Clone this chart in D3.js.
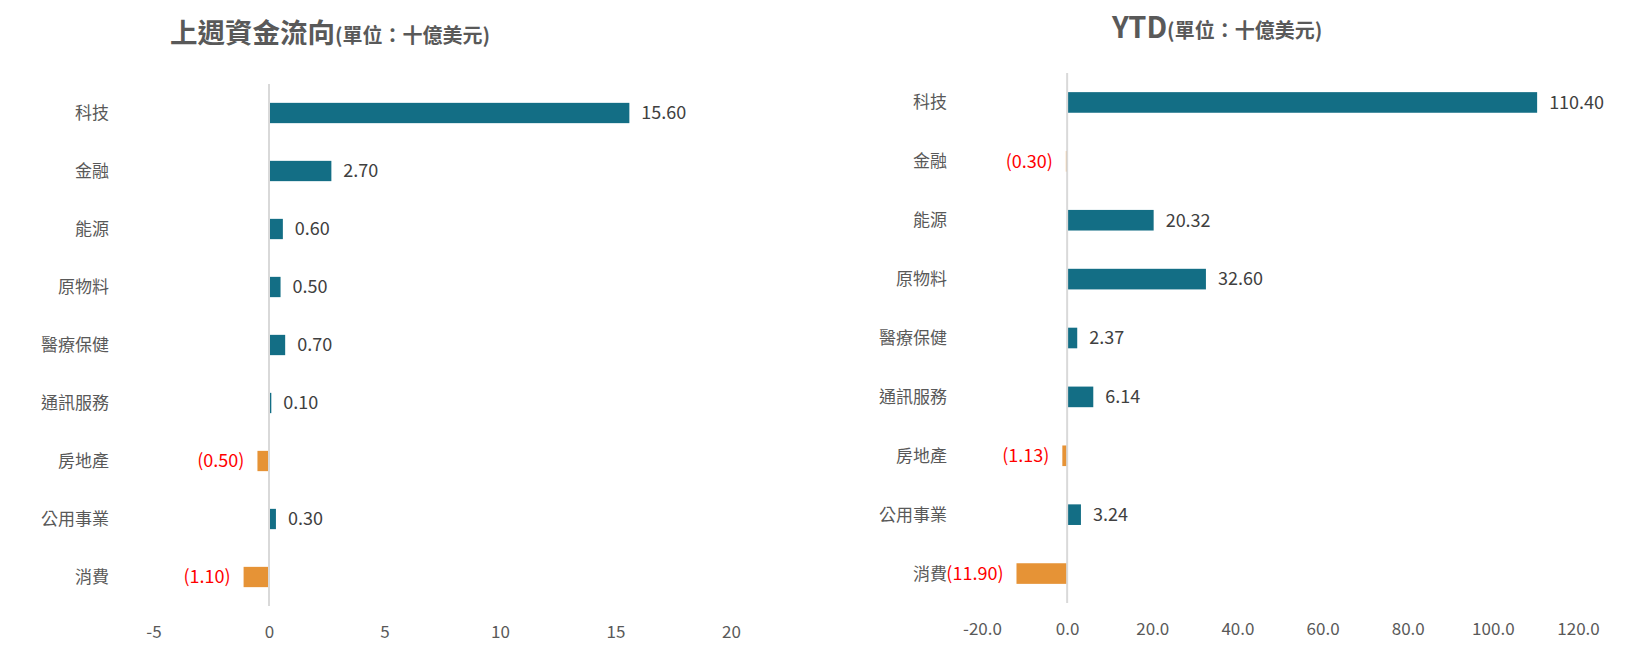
<!DOCTYPE html>
<html>
<head>
<meta charset="utf-8">
<script src="https://cdn.jsdelivr.net/npm/d3@7"></script>
<style>
  html, body { margin: 0; padding: 0; background: #ffffff; }
  svg { display: block; }
  text { font-family: "Noto Sans CJK TC", "Noto Sans", sans-serif; }
</style>
</head>
<body>
<svg id="chart" width="1629" height="648"></svg>
<script>
// ---- data ----
const categories = ["科技", "金融", "能源", "原物料", "醫療保健", "通訊服務", "房地產", "公用事業", "消費"];
const weeklyValues = [15.60, 2.70, 0.60, 0.50, 0.70, 0.10, -0.50, 0.30, -1.10];
const ytdValues = [110.40, -0.30, 20.32, 32.60, 2.37, 6.14, -1.13, 3.24, -11.90];
const weeklyTicks = [-5, 0, 5, 10, 15, 20];
const ytdTicks = [-20, 0, 20, 40, 60, 80, 100, 120];
const weeklyTitle = "上週資金流向";
const ytdTitle = "YTD";
const unitText = "(單位：十億美元)";

// ---- styles ----
const POS = "#136E85";
const NEG = "#E69336";
const GREY = "#595959";
const AXIS = "#D9D9D9";

const svg = d3.select("#chart");

function fmtValue(v) {
  return v < 0 ? "(" + Math.abs(v).toFixed(2) + ")" : v.toFixed(2);
}

function drawPanel(cfg) {
  const g = svg.append("g");
  const x = d3.scaleLinear().domain(cfg.domain).range(cfg.xRange);
  const y = d3.scaleBand().domain(categories).range(cfg.yRange)
    .paddingInner(0.65).paddingOuter(0.325);
  const rows = categories.map((c, i) => ({ cat: c, v: cfg.values[i] }));

  // title
  const t = g.append("text")
    .attr("x", cfg.titleX).attr("y", cfg.titleY)
    .attr("fill", GREY).attr("font-weight", "bold");
  t.append("tspan").attr("font-size", cfg.titleSize).text(cfg.title);
  t.append("tspan").attr("font-size", 20).text(unitText);

  // bars
  g.selectAll("rect.bar").data(rows).join("rect")
    .attr("class", "bar")
    .attr("x", d => x(Math.min(0, d.v)))
    .attr("width", d => Math.abs(x(d.v) - x(0)))
    .attr("y", d => y(d.cat))
    .attr("height", y.bandwidth())
    .attr("fill", d => d.v < 0 ? NEG : POS);

  // zero line
  g.append("line")
    .attr("x1", x(0)).attr("x2", x(0))
    .attr("y1", cfg.yRange[0]).attr("y2", cfg.yRange[1])
    .attr("stroke", AXIS).attr("stroke-width", 2);

  // category labels
  g.selectAll("text.cat").data(rows).join("text")
    .attr("class", "cat")
    .attr("x", cfg.catX)
    .attr("y", d => y(d.cat) + y.bandwidth() / 2)
    .attr("dy", "0.35em")
    .attr("text-anchor", "end")
    .attr("font-size", 17)
    .attr("fill", GREY)
    .text(d => d.cat);

  // value labels
  g.selectAll("text.val").data(rows).join("text")
    .attr("class", "val")
    .attr("x", d => d.v < 0 ? x(d.v) - 13 : x(d.v) + 12)
    .attr("y", d => y(d.cat) + y.bandwidth() / 2)
    .attr("dy", "0.35em")
    .attr("text-anchor", d => d.v < 0 ? "end" : "start")
    .attr("font-size", 18)
    .attr("fill", d => d.v < 0 ? "#FF0000" : "#404040")
    .text(d => fmtValue(d.v));

  // x axis tick labels
  const ax = g.append("g")
    .attr("transform", `translate(0,${cfg.tickY})`)
    .call(d3.axisBottom(x).tickValues(cfg.ticks).tickSize(0).tickPadding(0)
      .tickFormat(cfg.tickFormat));
  ax.select(".domain").remove();
  ax.selectAll("text")
    .attr("y", 0).attr("dy", "0.35em")
    .attr("font-size", 17)
    .attr("font-family", "'Noto Sans CJK TC', 'Noto Sans', sans-serif")
    .attr("fill", GREY);
}

drawPanel({
  values: weeklyValues,
  domain: [-5, 20],
  xRange: [153.5, 731],
  yRange: [84, 606],
  ticks: weeklyTicks,
  tickFormat: d => String(d),
  tickY: 632,
  catX: 109,
  title: weeklyTitle,
  titleSize: 27.5,
  titleX: 170,
  titleY: 43
});

drawPanel({
  values: ytdValues,
  domain: [-20, 120],
  xRange: [982, 1578],
  yRange: [73, 603],
  ticks: ytdTicks,
  tickFormat: d => d.toFixed(1),
  tickY: 629,
  catX: 947,
  title: ytdTitle,
  titleSize: 29,
  titleX: 1112,
  titleY: 38
});
</script>
</body>
</html>
